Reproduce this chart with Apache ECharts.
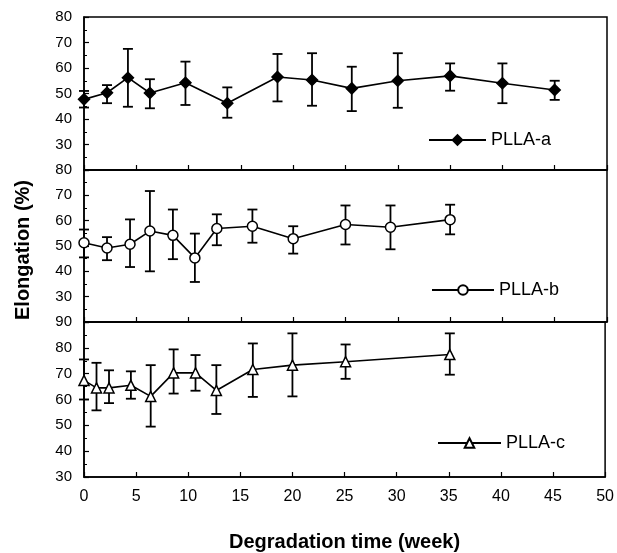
<!DOCTYPE html>
<html>
<head>
<meta charset="utf-8">
<script src="https://cdn.jsdelivr.net/npm/echarts@6/dist/echarts.min.js"></script>
<style>html,body{margin:0;padding:0;background:#fff;}#c{width:617px;height:553px;}</style>
</head>
<body>
<div id="c"></div>
<script>
// PLLA-a: week, mean, low, high
var weeksA = [0, 2.2, 4.2, 6.3, 9.7, 13.7, 18.5, 21.8, 25.6, 30, 35, 40, 45];
var meanA  = [47.7, 50.3, 56.2, 50.2, 54.2, 46.2, 56.5, 55.3, 52.0, 55.0, 56.9, 54.0, 51.4];
var lowA   = [44.5, 46.2, 44.8, 44.2, 45.5, 40.5, 46.9, 45.2, 43.1, 44.4, 51.1, 46.2, 47.5];
var highA  = [51.0, 53.3, 67.5, 55.6, 62.5, 52.4, 65.5, 65.8, 60.5, 65.8, 61.8, 61.8, 55.0];

// PLLA-b
var weeksB = [0, 2.2, 4.4, 6.3, 8.5, 10.6, 12.7, 16.1, 20, 25, 29.3, 35];
var meanB  = [51.3, 49.2, 50.7, 55.9, 54.2, 45.3, 56.9, 57.8, 52.9, 58.5, 57.4, 60.4];
var lowB   = [45.5, 44.4, 41.7, 40.0, 44.8, 35.8, 50.3, 51.3, 47.0, 50.6, 48.7, 54.6];
var highB  = [56.5, 53.5, 60.5, 71.7, 64.4, 54.9, 62.5, 64.4, 57.8, 66.0, 66.0, 66.3];

// PLLA-c
var weeksC = [0, 1.2, 2.4, 4.5, 6.4, 8.6, 10.7, 12.7, 16.2, 20, 25.1, 35.1];
var meanC  = [67.4, 64.5, 64.5, 65.5, 61.2, 70.3, 70.3, 63.5, 71.6, 73.3, 74.6, 77.4];
var lowC   = [60.0, 55.8, 58.6, 60.3, 49.5, 62.3, 63.4, 54.4, 61.0, 61.2, 68.0, 69.6];
var highC  = [75.5, 74.2, 71.3, 70.9, 73.3, 79.4, 77.2, 73.3, 81.7, 85.6, 81.3, 85.6];

var xTicks = [0, 5, 10, 15, 20, 25, 30, 35, 40, 45, 50];
var names = ['PLLA-a', 'PLLA-b', 'PLLA-c'];
var yTitle = 'Elongation (%)';
var xTitle = 'Degradation time (week)';

function pairs(xs, ys) { return xs.map(function (x, i) { return [x, ys[i]]; }); }
function triples(xs, lo, hi) { return xs.map(function (x, i) { return [x, lo[i], hi[i]]; }); }

var FONT = 'Liberation Sans, Arial, sans-serif';
var grids = [
  {left: 84, right: 10, top: 17, height: 153},
  {left: 84, right: 10, top: 170, height: 152},
  {left: 84, right: 10, top: 322, height: 155}
];
grids.forEach(function (g) { g.show = true; g.borderColor = '#000'; g.borderWidth = 1.5; g.backgroundColor = 'transparent'; });

function xAx(i, showLabels) {
  return {
    type: 'value', gridIndex: i, min: xTicks[0], max: xTicks[xTicks.length - 1], interval: 5,
    axisLine: {show: true, onZero: false, lineStyle: {color: '#000', width: 1.5}},
    axisTick: {show: true, inside: true, length: 5, lineStyle: {color: '#000', width: 1.2}},
    axisLabel: {show: showLabels, color: '#000', fontSize: 16, fontFamily: FONT, margin: 12},
    splitLine: {show: false},
    name: showLabels ? xTitle : '', nameLocation: 'middle', nameGap: 55,
    nameTextStyle: {color: '#000', fontSize: 20, fontWeight: 'bold', fontFamily: FONT}
  };
}
function yAx(i, min, max, hideMin) {
  return {
    type: 'value', gridIndex: i, min: min, max: max, interval: 10,
    axisLine: {show: true, onZero: false, lineStyle: {color: '#000', width: 1.5}},
    axisTick: {show: true, inside: true, length: 5, lineStyle: {color: '#000', width: 1.2}},
    minorTick: {show: true, splitNumber: 2, length: 3, lineStyle: {color: '#000', width: 1}},
    axisLabel: {show: true, color: '#000', fontSize: 15, fontFamily: FONT, margin: 12, showMinLabel: !hideMin},
    splitLine: {show: false}, minorSplitLine: {show: false}
  };
}

function errSeries(i, data) {
  return {
    type: 'custom', xAxisIndex: i, yAxisIndex: i, data: data, z: 2, silent: true,
    renderItem: function (params, api) {
      var x = api.value(0);
      var lo = api.coord([x, api.value(1)]);
      var hi = api.coord([x, api.value(2)]);
      var w = 5;
      var st = {stroke: '#000', lineWidth: 1.8, fill: null};
      return {type: 'group', children: [
        {type: 'line', shape: {x1: lo[0], y1: lo[1], x2: hi[0], y2: hi[1]}, style: st},
        {type: 'line', shape: {x1: lo[0] - w, y1: lo[1], x2: lo[0] + w, y2: lo[1]}, style: st},
        {type: 'line', shape: {x1: hi[0] - w, y1: hi[1], x2: hi[0] + w, y2: hi[1]}, style: st}
      ]};
    }
  };
}
function lineSeries(i, name, data, symbol, size, fill) {
  return {
    type: 'line', name: name, xAxisIndex: i, yAxisIndex: i, data: data, z: 3,
    symbol: symbol, symbolSize: size, showAllSymbol: true,
    lineStyle: {color: '#000', width: 1.6},
    itemStyle: {color: fill, borderColor: '#000', borderWidth: 1.5},
    emphasis: {disabled: true}
  };
}
function legend(name, left, top, w) {
  return {
    data: [name], left: left, top: top, itemWidth: w, itemHeight: 12, selectedMode: false,
    textStyle: {color: '#000', fontSize: 18, fontFamily: FONT}, padding: 0
  };
}

var chart = echarts.init(document.getElementById('c'), null, {renderer: 'canvas'});
chart.setOption({
  animation: false,
  backgroundColor: '#fff',
  grid: grids,
  xAxis: [xAx(0, false), xAx(1, false), xAx(2, true)],
  yAxis: [yAx(0, 20, 80, true), yAx(1, 20, 80, true), yAx(2, 30, 90, false)],
  legend: [legend(names[0], 428, 131, 57), legend(names[1], 431, 281, 62), legend(names[2], 437, 434, 63)],
  graphic: [{
    type: 'text', x: 23, y: 250, rotation: Math.PI / 2,
    style: {text: yTitle, fill: '#000', font: 'bold 20px ' + FONT, align: 'center', verticalAlign: 'middle'}
  }],
  series: [
    errSeries(0, triples(weeksA, lowA, highA)),
    lineSeries(0, names[0], pairs(weeksA, meanA), 'diamond', 11, '#000'),
    errSeries(1, triples(weeksB, lowB, highB)),
    lineSeries(1, names[1], pairs(weeksB, meanB), 'circle', 10, '#fff'),
    errSeries(2, triples(weeksC, lowC, highC)),
    lineSeries(2, names[2], pairs(weeksC, meanC), 'triangle', 10, '#fff')
  ]
});
</script>
</body>
</html>
